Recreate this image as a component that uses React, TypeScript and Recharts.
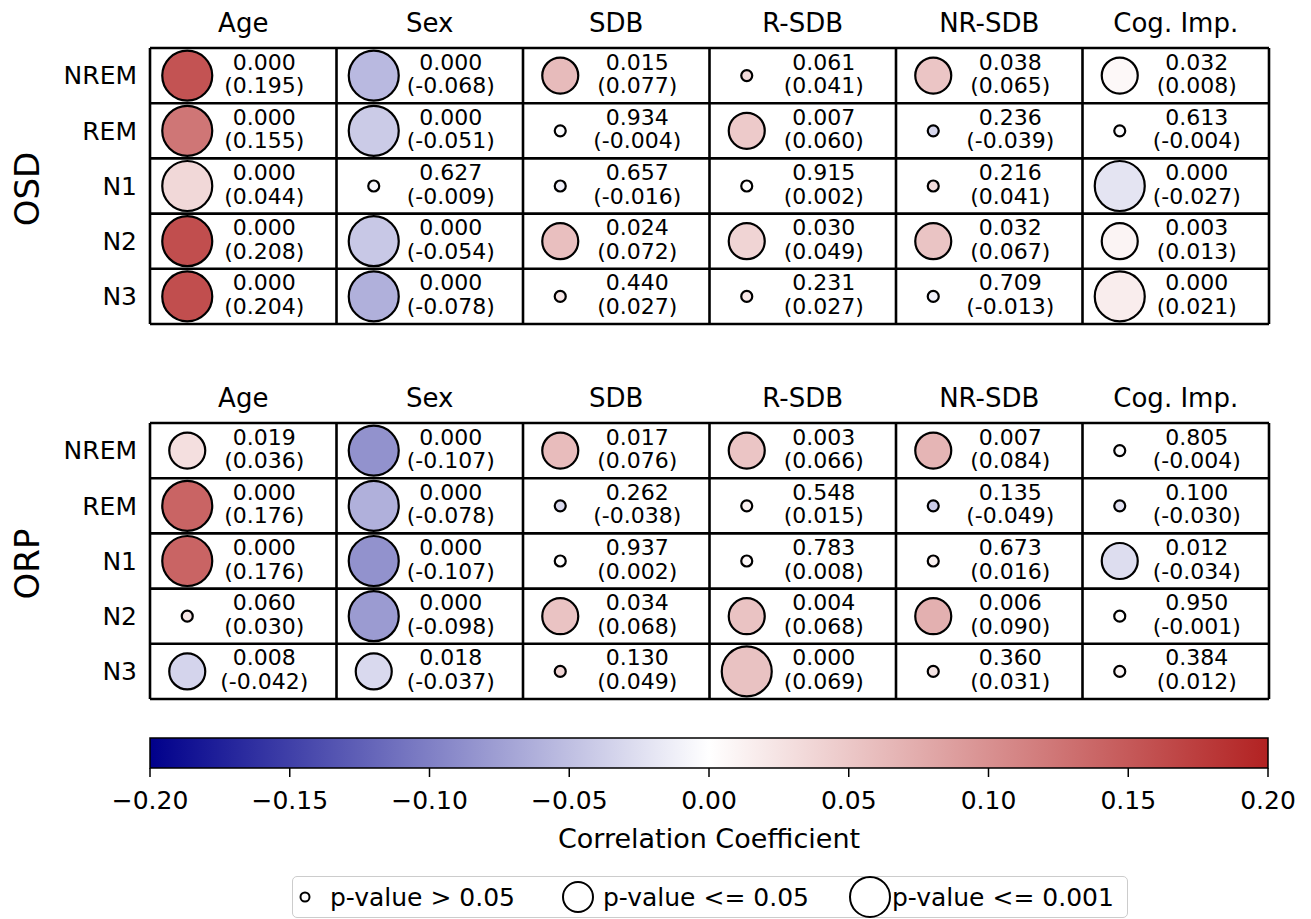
import React from 'react';
import {
  ScatterChart,
  ComposedChart,
  Scatter,
  XAxis,
  YAxis,
  ReferenceLine,
  ReferenceArea,
} from 'recharts';

// ---------------- data ----------------
const columns = ['Age', 'Sex', 'SDB', 'R-SDB', 'NR-SDB', 'Cog. Imp.'];
const stages = ['NREM', 'REM', 'N1', 'N2', 'N3'];

const osdPValues = [
  [0.0, 0.0, 0.015, 0.061, 0.038, 0.032],
  [0.0, 0.0, 0.934, 0.007, 0.236, 0.613],
  [0.0, 0.627, 0.657, 0.915, 0.216, 0.0],
  [0.0, 0.0, 0.024, 0.03, 0.032, 0.003],
  [0.0, 0.0, 0.44, 0.231, 0.709, 0.0],
];
const osdCorr = [
  [0.195, -0.068, 0.077, 0.041, 0.065, 0.008],
  [0.155, -0.051, -0.004, 0.06, -0.039, -0.004],
  [0.044, -0.009, -0.016, 0.002, 0.041, -0.027],
  [0.208, -0.054, 0.072, 0.049, 0.067, 0.013],
  [0.204, -0.078, 0.027, 0.027, -0.013, 0.021],
];
const orpPValues = [
  [0.019, 0.0, 0.017, 0.003, 0.007, 0.805],
  [0.0, 0.0, 0.262, 0.548, 0.135, 0.1],
  [0.0, 0.0, 0.937, 0.783, 0.673, 0.012],
  [0.06, 0.0, 0.034, 0.004, 0.006, 0.95],
  [0.008, 0.018, 0.13, 0.0, 0.36, 0.384],
];
const orpCorr = [
  [0.036, -0.107, 0.076, 0.066, 0.084, -0.004],
  [0.176, -0.078, -0.038, 0.015, -0.049, -0.03],
  [0.176, -0.107, 0.002, 0.008, 0.016, -0.034],
  [0.03, -0.098, 0.068, 0.068, 0.09, -0.001],
  [-0.042, -0.037, 0.049, 0.069, 0.031, 0.012],
];
const colorbarTicks = [-0.2, -0.15, -0.1, -0.05, 0, 0.05, 0.1, 0.15, 0.2];
const legendLabels = ['p-value > 0.05', 'p-value <= 0.05', 'p-value <= 0.001'];
const legendPValues = [0.5, 0.05, 0.001];

// ---------------- styling helpers ----------------
const FONT = "'DejaVu Sans', 'Liberation Sans', sans-serif";
const C_LOW = [0, 0, 139];
const C_MID = [255, 255, 255];
const C_HIGH = [178, 34, 34];
const VMAX = 0.2;

function cmap(v: number): string {
  const t = Math.max(-1, Math.min(1, v / VMAX));
  const end = t < 0 ? C_LOW : C_HIGH;
  const f = Math.abs(t);
  const c = C_MID.map((m, i) => Math.round(m + (end[i] - m) * f));
  return `rgb(${c[0]},${c[1]},${c[2]})`;
}

function radiusFor(p: number): number {
  if (p <= 0.001) return 25;
  if (p <= 0.05) return 18;
  return 5.5;
}

function buildCells(p: number[][], r: number[][]) {
  return stages.flatMap((_, i) =>
    columns.map((__, j) => ({ x: j + 0.5, y: i + 0.5, p: p[i][j], r: r[i][j] }))
  );
}

const CellShape = (props: any) => {
  const { cx, cy, payload } = props;
  if (cx == null || cy == null || !payload) return <g />;
  const rad = radiusFor(payload.p);
  const tx = cx + 21;
  return (
    <g>
      <circle
        cx={cx - 56}
        cy={cy}
        r={rad}
        fill={cmap(payload.r)}
        fillOpacity={0.8}
        stroke="#000"
        strokeWidth={2.2}
      />
      <text x={tx} y={cy - 6} textAnchor="middle" fontSize={22} fontFamily={FONT} fill="#000">
        {payload.p.toFixed(3)}
      </text>
      <text x={tx} y={cy + 17.5} textAnchor="middle" fontSize={22} fontFamily={FONT} fill="#000">
        {`(${payload.r.toFixed(3)})`}
      </text>
    </g>
  );
};

const colBounds = Array.from({ length: columns.length + 1 }, (_, k) => k);
const rowBounds = Array.from({ length: stages.length + 1 }, (_, k) => k);

function Panel({ top, label, p, r }: { top: number; label: string; p: number[][]; r: number[][] }) {
  const data = buildCells(p, r);
  const panelLabel = (lp: any) => {
    const vb = lp && lp.viewBox ? lp.viewBox : { y: 48, height: 276 };
    const cy = vb.y + vb.height / 2 + 3;
    return (
      <text
        x={39}
        y={cy}
        transform={`rotate(-90, 39, ${cy})`}
        textAnchor="middle"
        fontSize={34}
        fontFamily={FONT}
        fill="#000"
      >
        {label}
      </text>
    );
  };
  return (
    <div style={{ position: 'absolute', left: 0, top, width: 1311, height: 340 }}>
      <ScatterChart width={1311} height={340} margin={{ top: 0, right: 42, bottom: 16, left: 0 }}>
        <XAxis
          type="number"
          dataKey="x"
          orientation="top"
          domain={[0, columns.length]}
          ticks={columns.map((_, j) => j + 0.5)}
          tickFormatter={(v: number) => columns[Math.floor(v)]}
          interval={0}
          axisLine={false}
          tickLine={false}
          tickSize={0}
          tickMargin={16}
          height={48}
          tick={{ fontSize: 26, fill: '#000', fontFamily: FONT }}
        />
        <YAxis
          type="number"
          dataKey="y"
          reversed
          domain={[0, stages.length]}
          ticks={stages.map((_, i) => i + 0.5)}
          tickFormatter={(v: number) => stages[Math.floor(v)]}
          interval={0}
          axisLine={false}
          tickLine={false}
          tickSize={0}
          tickMargin={13}
          width={150}
          tick={{ fontSize: 25, fill: '#000', fontFamily: FONT }}
          label={panelLabel}
        />
        {colBounds.map((b) => (
          <ReferenceLine key={`cx${b}`} x={b} stroke="#000" strokeWidth={2.6} ifOverflow="visible" />
        ))}
        {rowBounds.map((b) => (
          <ReferenceLine key={`ry${b}`} y={b} stroke="#000" strokeWidth={2.6} ifOverflow="visible" />
        ))}
        <Scatter data={data} shape={CellShape} isAnimationActive={false} />
      </ScatterChart>
    </div>
  );
}

function fmtTick(v: number): string {
  const s = Math.abs(v).toFixed(2);
  return v < -1e-9 ? `\u2212${s}` : s;
}

function Colorbar() {
  const data = colorbarTicks.map((t) => ({ x: t, y: 0.5 }));
  const cbLabel = (lp: any) => {
    const vb = lp && lp.viewBox ? lp.viewBox : { x: 150, y: 68, width: 1118 };
    return (
      <text
        x={vb.x + vb.width / 2}
        y={vb.y + 80}
        textAnchor="middle"
        fontSize={27}
        fontFamily={FONT}
        fill="#000"
      >
        Correlation Coefficient
      </text>
    );
  };
  return (
    <div style={{ position: 'absolute', left: 0, top: 700, width: 1311, height: 160 }}>
      <ComposedChart
        width={1311}
        height={160}
        data={data}
        margin={{ top: 38, right: 43, bottom: 0, left: 150 }}
      >
        <defs>
          <linearGradient id="cbarGrad" x1="0" y1="0" x2="1" y2="0">
            <stop offset="0" stopColor={cmap(-VMAX)} />
            <stop offset="0.5" stopColor={cmap(0)} />
            <stop offset="1" stopColor={cmap(VMAX)} />
          </linearGradient>
        </defs>
        <XAxis
          type="number"
          dataKey="x"
          domain={[-VMAX, VMAX]}
          ticks={colorbarTicks}
          tickFormatter={fmtTick}
          interval={0}
          axisLine={false}
          tickLine={{ stroke: '#000', strokeWidth: 1.5 }}
          tickSize={9}
          tickMargin={14}
          height={92}
          tick={{ fontSize: 25, fill: '#000', fontFamily: FONT }}
          label={cbLabel}
        />
        <YAxis type="number" dataKey="y" domain={[0, 1]} hide />
        <ReferenceArea
          x1={-VMAX}
          x2={VMAX}
          y1={0}
          y2={1}
          fill="url(#cbarGrad)"
          fillOpacity={1}
          stroke="#000"
          strokeWidth={1.5}
          ifOverflow="visible"
        />
        <Scatter dataKey="y" shape={() => <g />} isAnimationActive={false} />
      </ComposedChart>
    </div>
  );
}

function SizeLegend() {
  const circleX = [13, 286, 578];
  const textX = [38, 311, 600];
  return (
    <div
      style={{
        position: 'absolute',
        left: 292,
        top: 876,
        width: 836,
        height: 42,
        border: '1.5px solid #cccccc',
        borderRadius: 5,
        boxSizing: 'border-box',
        background: '#fff',
      }}
    >
      <svg width={836} height={42} style={{ position: 'absolute', left: -1.5, top: -1.5 }}>
        {legendLabels.map((lab, i) => {
          const rr = radiusFor(legendPValues[i]);
          const rad = rr > 20 ? 20 : rr > 10 ? 15 : 4.5;
          return (
            <g key={lab}>
              <circle cx={circleX[i]} cy={21} r={rad} fill="#fff" stroke="#000" strokeWidth={2} />
              <text x={textX[i]} y={30} fontSize={25} fontFamily={FONT} fill="#000">
                {lab}
              </text>
            </g>
          );
        })}
      </svg>
    </div>
  );
}

export default function App() {
  return (
    <div
      style={{
        position: 'absolute',
        left: 0,
        top: 0,
        width: 1311,
        height: 919,
        background: '#fff',
        fontFamily: FONT,
        overflow: 'hidden',
      }}
    >
      <Panel top={0} label="OSD" p={osdPValues} r={osdCorr} />
      <Panel top={375} label="ORP" p={orpPValues} r={orpCorr} />
      <Colorbar />
      <SizeLegend />
    </div>
  );
}
